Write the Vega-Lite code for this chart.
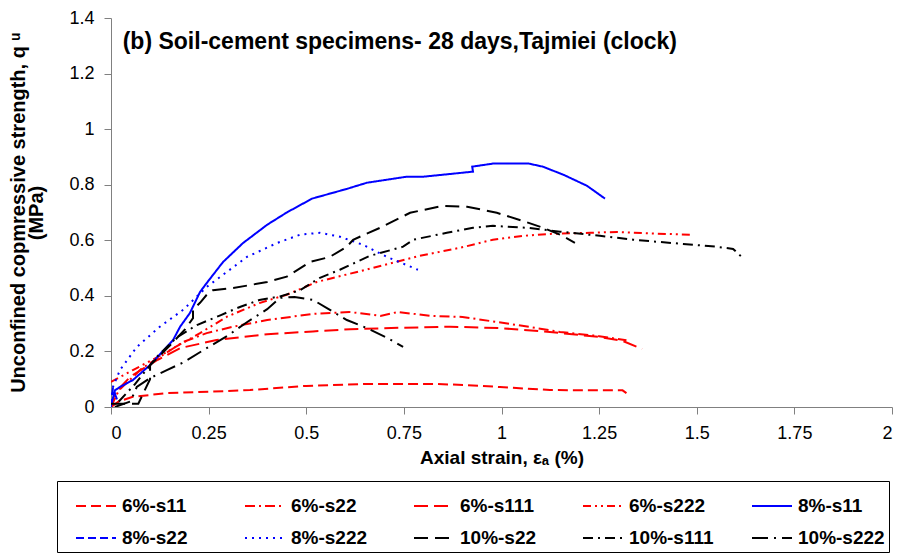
{
  "$schema": "https://vega.github.io/schema/vega-lite/v6.json",
  "width": 781,
  "height": 389,
  "autosize": {"type": "none"},
  "padding": {"left": 111, "top": 18, "right": 9, "bottom": 149},
  "background": "white",
  "config": {
    "view": {"stroke": null},
    "font": "Liberation Sans",
    "axis": {
      "grid": false,
      "domainColor": "#808080",
      "tickColor": "#808080",
      "tickSize": 7,
      "labelFont": "Liberation Sans",
      "labelFontSize": 18,
      "labelColor": "black",
      "titleFont": "Liberation Sans",
      "titleFontSize": 19,
      "titleFontWeight": "bold",
      "titleColor": "black"
    },
    "legend": {
      "symbolType": "stroke",
      "symbolSize": 1600,
      "symbolStrokeWidth": 2,
      "symbolOffset": 14,
      "labelFont": "Liberation Sans",
      "labelFontSize": 19,
      "labelFontWeight": "bold",
      "labelColor": "black",
      "labelOffset": 5,
      "gridAlign": "all",
      "columnPadding": 21,
      "rowPadding": 1,
      "strokeColor": "black",
      "padding": 4
    }
  },
  "datasets": {
    "curves": [
      {"s": "6%-s11", "i": 0, "x": 0, "y": 0},
      {"s": "6%-s11", "i": 1, "x": 0.02, "y": 0.02},
      {"s": "6%-s11", "i": 2, "x": 0.054, "y": 0.036},
      {"s": "6%-s11", "i": 3, "x": 0.143, "y": 0.05},
      {"s": "6%-s11", "i": 4, "x": 0.25, "y": 0.055},
      {"s": "6%-s11", "i": 5, "x": 0.356, "y": 0.061},
      {"s": "6%-s11", "i": 6, "x": 0.5, "y": 0.076},
      {"s": "6%-s11", "i": 7, "x": 0.655, "y": 0.083},
      {"s": "6%-s11", "i": 8, "x": 0.825, "y": 0.083},
      {"s": "6%-s11", "i": 9, "x": 0.91, "y": 0.079},
      {"s": "6%-s11", "i": 10, "x": 0.996, "y": 0.072},
      {"s": "6%-s11", "i": 11, "x": 1.124, "y": 0.061},
      {"s": "6%-s11", "i": 12, "x": 1.25, "y": 0.06},
      {"s": "6%-s11", "i": 13, "x": 1.31, "y": 0.06},
      {"s": "6%-s11", "i": 14, "x": 1.32, "y": 0.05},

      {"s": "6%-s22", "i": 0, "x": 0, "y": 0},
      {"s": "6%-s22", "i": 1, "x": 0.02, "y": 0.06},
      {"s": "6%-s22", "i": 2, "x": 0.08, "y": 0.14},
      {"s": "6%-s22", "i": 3, "x": 0.185, "y": 0.234},
      {"s": "6%-s22", "i": 4, "x": 0.245, "y": 0.266},
      {"s": "6%-s22", "i": 5, "x": 0.313, "y": 0.289},
      {"s": "6%-s22", "i": 6, "x": 0.4, "y": 0.313},
      {"s": "6%-s22", "i": 7, "x": 0.517, "y": 0.335},
      {"s": "6%-s22", "i": 8, "x": 0.61, "y": 0.342},
      {"s": "6%-s22", "i": 9, "x": 0.69, "y": 0.328},
      {"s": "6%-s22", "i": 10, "x": 0.735, "y": 0.342},
      {"s": "6%-s22", "i": 11, "x": 0.817, "y": 0.328},
      {"s": "6%-s22", "i": 12, "x": 0.9, "y": 0.324},
      {"s": "6%-s22", "i": 13, "x": 0.988, "y": 0.306},
      {"s": "6%-s22", "i": 14, "x": 1.073, "y": 0.288},
      {"s": "6%-s22", "i": 15, "x": 1.15, "y": 0.27},
      {"s": "6%-s22", "i": 16, "x": 1.25, "y": 0.255},
      {"s": "6%-s22", "i": 17, "x": 1.32, "y": 0.24},

      {"s": "6%-s111", "i": 0, "x": 0, "y": 0},
      {"s": "6%-s111", "i": 1, "x": 0.01, "y": 0.05},
      {"s": "6%-s111", "i": 2, "x": 0.05, "y": 0.11},
      {"s": "6%-s111", "i": 3, "x": 0.12, "y": 0.17},
      {"s": "6%-s111", "i": 4, "x": 0.177, "y": 0.212},
      {"s": "6%-s111", "i": 5, "x": 0.27, "y": 0.241},
      {"s": "6%-s111", "i": 6, "x": 0.4, "y": 0.262},
      {"s": "6%-s111", "i": 7, "x": 0.517, "y": 0.272},
      {"s": "6%-s111", "i": 8, "x": 0.612, "y": 0.28},
      {"s": "6%-s111", "i": 9, "x": 0.74, "y": 0.285},
      {"s": "6%-s111", "i": 10, "x": 0.868, "y": 0.289},
      {"s": "6%-s111", "i": 11, "x": 0.996, "y": 0.284},
      {"s": "6%-s111", "i": 12, "x": 1.124, "y": 0.27},
      {"s": "6%-s111", "i": 13, "x": 1.25, "y": 0.252},
      {"s": "6%-s111", "i": 14, "x": 1.31, "y": 0.238},
      {"s": "6%-s111", "i": 15, "x": 1.36, "y": 0.209},

      {"s": "6%-s222", "i": 0, "x": 0, "y": 0.09},
      {"s": "6%-s222", "i": 1, "x": 0.056, "y": 0.133},
      {"s": "6%-s222", "i": 2, "x": 0.12, "y": 0.18},
      {"s": "6%-s222", "i": 3, "x": 0.228, "y": 0.266},
      {"s": "6%-s222", "i": 4, "x": 0.297, "y": 0.325},
      {"s": "6%-s222", "i": 5, "x": 0.38, "y": 0.374},
      {"s": "6%-s222", "i": 6, "x": 0.45, "y": 0.404},
      {"s": "6%-s222", "i": 7, "x": 0.527, "y": 0.45},
      {"s": "6%-s222", "i": 8, "x": 0.63, "y": 0.486},
      {"s": "6%-s222", "i": 9, "x": 0.732, "y": 0.523},
      {"s": "6%-s222", "i": 10, "x": 0.79, "y": 0.544},
      {"s": "6%-s222", "i": 11, "x": 0.894, "y": 0.573},
      {"s": "6%-s222", "i": 12, "x": 0.978, "y": 0.602},
      {"s": "6%-s222", "i": 13, "x": 1.055, "y": 0.616},
      {"s": "6%-s222", "i": 14, "x": 1.124, "y": 0.623},
      {"s": "6%-s222", "i": 15, "x": 1.227, "y": 0.627},
      {"s": "6%-s222", "i": 16, "x": 1.296, "y": 0.63},
      {"s": "6%-s222", "i": 17, "x": 1.337, "y": 0.627},
      {"s": "6%-s222", "i": 18, "x": 1.483, "y": 0.62},

      {"s": "8%-s11", "i": 0, "x": 0, "y": 0.005},
      {"s": "8%-s11", "i": 1, "x": 0.01, "y": 0.06},
      {"s": "8%-s11", "i": 2, "x": 0.023, "y": 0.072},
      {"s": "8%-s11", "i": 3, "x": 0.056, "y": 0.097},
      {"s": "8%-s11", "i": 4, "x": 0.1, "y": 0.151},
      {"s": "8%-s11", "i": 5, "x": 0.159, "y": 0.241},
      {"s": "8%-s11", "i": 6, "x": 0.177, "y": 0.289},
      {"s": "8%-s11", "i": 7, "x": 0.202, "y": 0.338},
      {"s": "8%-s11", "i": 8, "x": 0.228, "y": 0.414},
      {"s": "8%-s11", "i": 9, "x": 0.245, "y": 0.446},
      {"s": "8%-s11", "i": 10, "x": 0.287, "y": 0.522},
      {"s": "8%-s11", "i": 11, "x": 0.338, "y": 0.59},
      {"s": "8%-s11", "i": 12, "x": 0.4, "y": 0.656},
      {"s": "8%-s11", "i": 13, "x": 0.45, "y": 0.7},
      {"s": "8%-s11", "i": 14, "x": 0.515, "y": 0.75},
      {"s": "8%-s11", "i": 15, "x": 0.604, "y": 0.785},
      {"s": "8%-s11", "i": 16, "x": 0.655, "y": 0.807},
      {"s": "8%-s11", "i": 17, "x": 0.758, "y": 0.829},
      {"s": "8%-s11", "i": 18, "x": 0.801, "y": 0.829},
      {"s": "8%-s11", "i": 19, "x": 0.927, "y": 0.847},
      {"s": "8%-s11", "i": 20, "x": 0.925, "y": 0.865},
      {"s": "8%-s11", "i": 21, "x": 0.978, "y": 0.876},
      {"s": "8%-s11", "i": 22, "x": 1.07, "y": 0.876},
      {"s": "8%-s11", "i": 23, "x": 1.106, "y": 0.865},
      {"s": "8%-s11", "i": 24, "x": 1.16, "y": 0.835},
      {"s": "8%-s11", "i": 25, "x": 1.219, "y": 0.796},
      {"s": "8%-s11", "i": 26, "x": 1.265, "y": 0.75},

      {"s": "8%-s22", "i": 0, "x": 0, "y": 0},
      {"s": "8%-s22", "i": 1, "x": 0.005, "y": 0.07},
      {"s": "8%-s22", "i": 2, "x": 0.012, "y": 0.04},
      {"s": "8%-s22", "i": 3, "x": 0.02, "y": 0.01},

      {"s": "8%-s222", "i": 0, "x": 0, "y": 0.02},
      {"s": "8%-s222", "i": 1, "x": 0.005, "y": 0.072},
      {"s": "8%-s222", "i": 2, "x": 0.023, "y": 0.133},
      {"s": "8%-s222", "i": 3, "x": 0.066, "y": 0.216},
      {"s": "8%-s222", "i": 4, "x": 0.125, "y": 0.289},
      {"s": "8%-s222", "i": 5, "x": 0.185, "y": 0.35},
      {"s": "8%-s222", "i": 6, "x": 0.245, "y": 0.432},
      {"s": "8%-s222", "i": 7, "x": 0.348, "y": 0.54},
      {"s": "8%-s222", "i": 8, "x": 0.425, "y": 0.59},
      {"s": "8%-s222", "i": 9, "x": 0.484, "y": 0.62},
      {"s": "8%-s222", "i": 10, "x": 0.535, "y": 0.627},
      {"s": "8%-s222", "i": 11, "x": 0.586, "y": 0.613},
      {"s": "8%-s222", "i": 12, "x": 0.645, "y": 0.584},
      {"s": "8%-s222", "i": 13, "x": 0.707, "y": 0.54},
      {"s": "8%-s222", "i": 14, "x": 0.786, "y": 0.494},

      {"s": "10%-s22", "i": 0, "x": 0, "y": 0.012},
      {"s": "10%-s22", "i": 1, "x": 0.07, "y": 0.012},
      {"s": "10%-s22", "i": 2, "x": 0.1, "y": 0.1},
      {"s": "10%-s22", "i": 3, "x": 0.1, "y": 0.15},
      {"s": "10%-s22", "i": 4, "x": 0.15, "y": 0.22},
      {"s": "10%-s22", "i": 5, "x": 0.19, "y": 0.28},
      {"s": "10%-s22", "i": 6, "x": 0.21, "y": 0.32},
      {"s": "10%-s22", "i": 7, "x": 0.21, "y": 0.35},
      {"s": "10%-s22", "i": 8, "x": 0.228, "y": 0.375},
      {"s": "10%-s22", "i": 9, "x": 0.245, "y": 0.404},
      {"s": "10%-s22", "i": 10, "x": 0.261, "y": 0.42},
      {"s": "10%-s22", "i": 11, "x": 0.313, "y": 0.428},
      {"s": "10%-s22", "i": 12, "x": 0.4, "y": 0.45},
      {"s": "10%-s22", "i": 13, "x": 0.45, "y": 0.469},
      {"s": "10%-s22", "i": 14, "x": 0.51, "y": 0.522},
      {"s": "10%-s22", "i": 15, "x": 0.56, "y": 0.54},
      {"s": "10%-s22", "i": 16, "x": 0.604, "y": 0.577},
      {"s": "10%-s22", "i": 17, "x": 0.62, "y": 0.602},
      {"s": "10%-s22", "i": 18, "x": 0.689, "y": 0.645},
      {"s": "10%-s22", "i": 19, "x": 0.766, "y": 0.699},
      {"s": "10%-s22", "i": 20, "x": 0.85, "y": 0.724},
      {"s": "10%-s22", "i": 21, "x": 0.912, "y": 0.721},
      {"s": "10%-s22", "i": 22, "x": 0.988, "y": 0.699},
      {"s": "10%-s22", "i": 23, "x": 1.065, "y": 0.665},
      {"s": "10%-s22", "i": 24, "x": 1.106, "y": 0.645},
      {"s": "10%-s22", "i": 25, "x": 1.15, "y": 0.62},
      {"s": "10%-s22", "i": 26, "x": 1.188, "y": 0.591},

      {"s": "10%-s111", "i": 0, "x": 0.02, "y": 0.02},
      {"s": "10%-s111", "i": 1, "x": 0.06, "y": 0.08},
      {"s": "10%-s111", "i": 2, "x": 0.117, "y": 0.18},
      {"s": "10%-s111", "i": 3, "x": 0.168, "y": 0.25},
      {"s": "10%-s111", "i": 4, "x": 0.22, "y": 0.295},
      {"s": "10%-s111", "i": 5, "x": 0.28, "y": 0.33},
      {"s": "10%-s111", "i": 6, "x": 0.33, "y": 0.36},
      {"s": "10%-s111", "i": 7, "x": 0.38, "y": 0.385},
      {"s": "10%-s111", "i": 8, "x": 0.433, "y": 0.398},
      {"s": "10%-s111", "i": 9, "x": 0.484, "y": 0.42},
      {"s": "10%-s111", "i": 10, "x": 0.535, "y": 0.465},
      {"s": "10%-s111", "i": 11, "x": 0.586, "y": 0.494},
      {"s": "10%-s111", "i": 12, "x": 0.663, "y": 0.544},
      {"s": "10%-s111", "i": 13, "x": 0.748, "y": 0.577},
      {"s": "10%-s111", "i": 14, "x": 0.774, "y": 0.602},
      {"s": "10%-s111", "i": 15, "x": 0.86, "y": 0.627},
      {"s": "10%-s111", "i": 16, "x": 0.927, "y": 0.645},
      {"s": "10%-s111", "i": 17, "x": 0.978, "y": 0.652},
      {"s": "10%-s111", "i": 18, "x": 1.065, "y": 0.645},
      {"s": "10%-s111", "i": 19, "x": 1.15, "y": 0.631},
      {"s": "10%-s111", "i": 20, "x": 1.252, "y": 0.616},
      {"s": "10%-s111", "i": 21, "x": 1.337, "y": 0.602},
      {"s": "10%-s111", "i": 22, "x": 1.465, "y": 0.587},
      {"s": "10%-s111", "i": 23, "x": 1.55, "y": 0.577},
      {"s": "10%-s111", "i": 24, "x": 1.593, "y": 0.569},
      {"s": "10%-s111", "i": 25, "x": 1.615, "y": 0.54},

      {"s": "10%-s222", "i": 0, "x": 0.01, "y": 0},
      {"s": "10%-s222", "i": 1, "x": 0.05, "y": 0.02},
      {"s": "10%-s222", "i": 2, "x": 0.066, "y": 0.072},
      {"s": "10%-s222", "i": 3, "x": 0.1, "y": 0.104},
      {"s": "10%-s222", "i": 4, "x": 0.143, "y": 0.133},
      {"s": "10%-s222", "i": 5, "x": 0.185, "y": 0.16},
      {"s": "10%-s222", "i": 6, "x": 0.245, "y": 0.212},
      {"s": "10%-s222", "i": 7, "x": 0.297, "y": 0.255},
      {"s": "10%-s222", "i": 8, "x": 0.348, "y": 0.305},
      {"s": "10%-s222", "i": 9, "x": 0.4, "y": 0.352},
      {"s": "10%-s222", "i": 10, "x": 0.433, "y": 0.393},
      {"s": "10%-s222", "i": 11, "x": 0.47, "y": 0.396},
      {"s": "10%-s222", "i": 12, "x": 0.518, "y": 0.385},
      {"s": "10%-s222", "i": 13, "x": 0.553, "y": 0.356},
      {"s": "10%-s222", "i": 14, "x": 0.604, "y": 0.313},
      {"s": "10%-s222", "i": 15, "x": 0.655, "y": 0.284},
      {"s": "10%-s222", "i": 16, "x": 0.707, "y": 0.249},
      {"s": "10%-s222", "i": 17, "x": 0.748, "y": 0.216}
    ],
    "heading": [
      {"x": 0.03, "y": 1.29, "t": "(b) Soil-cement specimens- 28 days,Tajmiei (clock)"}
    ]
  },
  "layer": [
    {
      "data": {"name": "curves"},
      "mark": {"type": "line", "strokeWidth": 2, "clip": true},
      "encoding": {
        "x": {
          "field": "x",
          "type": "quantitative",
          "scale": {"domain": [0, 2], "nice": false},
          "axis": {
            "values": [0, 0.25, 0.5, 0.75, 1, 1.25, 1.5, 1.75, 2],
            "labelExpr": "'' + datum.value",
            "labelPadding": 10,
            "titlePadding": 6,
            "title": "Axial strain, εₐ (%)"
          }
        },
        "y": {
          "field": "y",
          "type": "quantitative",
          "scale": {"domain": [0, 1.4], "nice": false},
          "axis": {
            "values": [0, 0.2, 0.4, 0.6, 0.8, 1, 1.2, 1.4],
            "labelExpr": "'' + datum.value",
            "labelPadding": 10,
            "titlePadding": 22,
            "titleFontSize": 20,
            "titleLineHeight": 18,
            "title": ["Unconfined copmressive strength, q ᵘ", "(MPa)"]
          }
        },
        "color": {
          "field": "s",
          "type": "nominal",
          "scale": {
            "domain": ["6%-s11", "6%-s22", "6%-s111", "6%-s222", "8%-s11", "8%-s22", "8%-s222", "10%-s22", "10%-s111", "10%-s222"],
            "range": ["#FF0000", "#FF0000", "#FF0000", "#FF0000", "#0000FF", "#0000FF", "#0000FF", "#000000", "#000000", "#000000"]
          },
          "legend": {"orient": "none", "legendX": -54, "legendY": 463, "columns": 5, "title": null, "direction": "horizontal"}
        },
        "strokeDash": {
          "field": "s",
          "type": "nominal",
          "scale": {
            "domain": ["6%-s11", "6%-s22", "6%-s111", "6%-s222", "8%-s11", "8%-s22", "8%-s222", "10%-s22", "10%-s111", "10%-s222"],
            "range": [[10, 5], [10, 4, 2, 4], [14, 6], [8, 4, 2, 4, 2, 4], [1, 0], [8, 4], [2, 5], [14, 7], [10, 5, 2, 5], [16, 6, 2, 6]]
          },
          "legend": {"orient": "none", "legendX": -54, "legendY": 463, "columns": 5, "title": null, "direction": "horizontal"}
        },
        "order": {"field": "i", "type": "quantitative"}
      }
    },
    {
      "data": {"name": "heading"},
      "mark": {"type": "text", "align": "left", "baseline": "alphabetic", "fontSize": 23, "fontWeight": "bold", "font": "Liberation Sans", "color": "black"},
      "encoding": {
        "x": {"field": "x", "type": "quantitative"},
        "y": {"field": "y", "type": "quantitative"},
        "text": {"field": "t", "type": "nominal"}
      }
    }
  ]
}
